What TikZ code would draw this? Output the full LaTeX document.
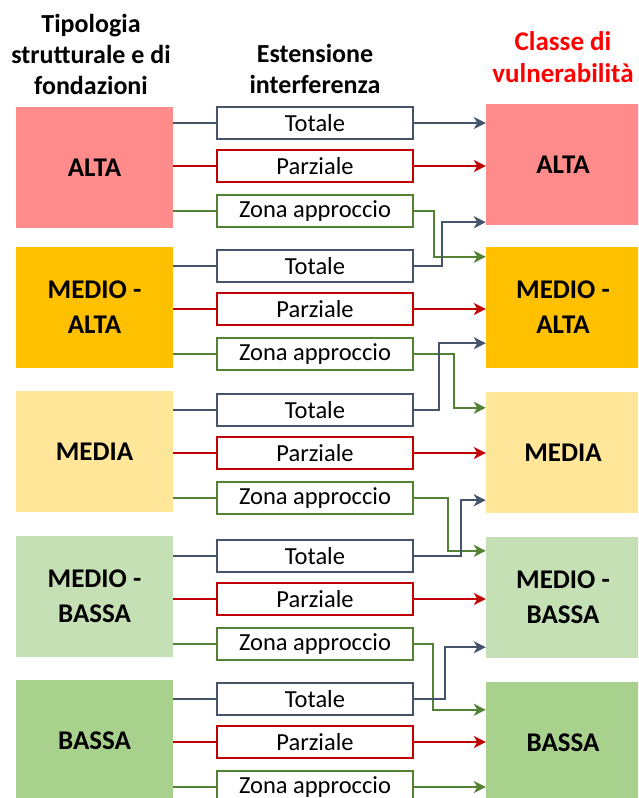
\documentclass[tikz,border=0pt]{standalone}
\usepackage{fontspec}
\setmainfont{Carlito}
\usetikzlibrary{arrows.meta,calc}

\definecolor{alta}{HTML}{FF8B8B}
\definecolor{medioalta}{HTML}{FFC000}
\definecolor{media}{HTML}{FFE699}
\definecolor{mediobassa}{HTML}{C5E0B4}
\definecolor{bassa}{HTML}{A9D18E}
\definecolor{tcol}{HTML}{44546A}
\definecolor{pcol}{HTML}{C00000}
\definecolor{zcol}{HTML}{548235}
\definecolor{titlered}{HTML}{FF0000}

\tikzset{
  head/.style={align=center, inner sep=0, font=\fontsize{26}{31}\selectfont\bfseries},
  classbox/.style={minimum width=157, minimum height=121, inner sep=0, align=center,
    font=\fontsize{27}{35}\selectfont\bfseries},
  extbox/.style={draw, line width=2pt, minimum width=196, minimum height=32, inner sep=0,
    font=\fontsize{24.5}{29}\selectfont},
  link/.style={line width=2pt},
  linkarrow/.style={link, -{Stealth[length=12pt,width=12pt,inset=3.5pt]}},
}

\begin{document}
\begin{tikzpicture}[x=1pt,y=-1pt]

\useasboundingbox (0,0) rectangle (638,798);
\clip (0,0) rectangle (638,798);

\node[head, anchor=north] (hleft) at (91,14) {Tipologia\\strutturale e di\\fondazioni};
\node[head, anchor=north] (hmid) at (315,44) {Estensione\\interferenza};
\node[head, anchor=north, text=titlered, font=\fontsize{27}{32}\selectfont\bfseries] (hright)
  at (563,31) {Classe di\\vulnerabilità};

\foreach \i/\lab/\col/\ly/\ry in {1/ALTA/alta/167.5/164.5, 2/{MEDIO -\\ALTA}/medioalta/307.5/307.5,
    3/MEDIA/media/451.5/452.5, 4/{MEDIO -\\BASSA}/mediobassa/596.5/597.5, 5/BASSA/bassa/740.5/742.5} {
  \node[classbox, fill=\col] (L\i) at (94.5,\ly) {\lab};
  \node[classbox, fill=\col, minimum width=154] (R\i) at (563,\ry) {\lab};
}

\foreach \i/\y in {1/123,2/266,3/410,4/556,5/699} {
  \node[extbox, draw=tcol] (T\i) at (315,\y) {Totale};
  \node[extbox, draw=pcol] (P\i) at (315,\y+43) {Parziale};
  \node[extbox, draw=zcol] (Z\i) at (315,\y+88) {Zona approccio};

  \draw[link, tcol] (L\i.east |- T\i) -- (T\i.west);
  \draw[link, pcol] (L\i.east |- P\i) -- (P\i.west);
  \draw[link, zcol] (L\i.east |- Z\i) -- (Z\i.west);

  \draw[linkarrow, pcol] (P\i.east) -- (P\i.east -| R\i.west);
}

\draw[linkarrow, tcol] (T1.east) -- (T1.east -| R1.west);
\draw[linkarrow, zcol] (Z5.east) -- (Z5.east -| R5.west);

\foreach \a/\dx/\b/\dy in {Z1/20/R2.north west/10, Z2/40/R3.north west/16,
    Z3/34/R4.north west/14, Z4/19/R5.north west/28}
  \draw[linkarrow, zcol] (\a.east) -- ++(\dx,0) |- ($(\b)+(0,\dy)$);

\foreach \a/\dx/\b/\dy in {T2/28/R1.south west/-3, T3/25/R2.south west/-25,
    T4/47/R3.south west/-13, T5/31/R4.south west/-11}
  \draw[linkarrow, tcol] (\a.east) -- ++(\dx,0) |- ($(\b)+(0,\dy)$);

\end{tikzpicture}
\end{document}
